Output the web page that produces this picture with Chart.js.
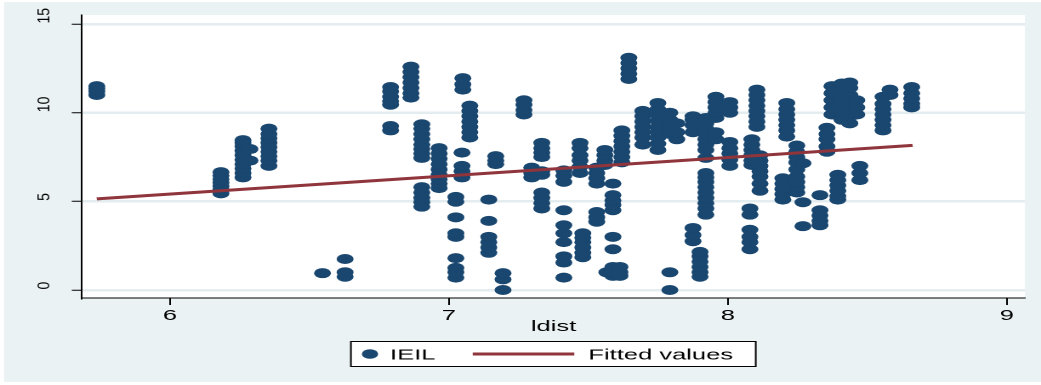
<!DOCTYPE html>
<html>
<head>
<meta charset="utf-8">
<script src="https://cdn.jsdelivr.net/npm/chart.js@4/dist/chart.umd.min.js"></script>
<style>
  html, body { margin: 0; padding: 0; background: #ffffff; overflow: hidden; }
  /* the chart is laid out on a narrow canvas and widened to the full page */
  #wrap { position: absolute; left: 0; top: 0; width: 612px; height: 385px;
          transform-origin: 0 0; transform: scaleX(1.70098); }
</style>
</head>
<body>
<div id="wrap"><canvas id="c"></canvas></div>
<script>
// ldist values (one entry per distinct distance) and the IEIL observations at each
const ldistLevels = [
  5.738, 6.183, 6.262, 6.287, 6.355, 6.547, 6.628, 6.791, 6.864, 6.903,
  6.965, 7.025, 7.047, 7.050, 7.075, 7.143, 7.168, 7.194, 7.269, 7.297,
  7.333, 7.412, 7.470, 7.480, 7.530, 7.559, 7.566, 7.588, 7.613, 7.620,
  7.645, 7.695, 7.749, 7.792, 7.817, 7.875, 7.900, 7.921, 7.957, 8.007,
  8.079, 8.086, 8.104, 8.115, 8.197, 8.211, 8.247, 8.269, 8.330, 8.355,
  8.373, 8.394, 8.409, 8.437, 8.462, 8.473, 8.556, 8.581, 8.659
];
const ieilAtLevel = [
  [11.0, 11.2, 11.35, 11.5],
  [5.45, 5.65, 5.85, 6.05, 6.25, 6.45, 6.65],
  [6.35, 6.6, 6.85, 7.1, 7.35, 7.6, 7.85, 8.1, 8.3, 8.45],
  [7.3, 7.95],
  [7.0, 7.3, 7.55, 7.8, 8.05, 8.3, 8.55, 8.8, 9.1],
  [0.95],
  [0.75, 1.0, 1.75],
  [9.0, 9.25, 10.45, 10.65, 10.9, 11.2, 11.45],
  [10.85, 11.1, 11.4, 11.7, 12.0, 12.3, 12.6],
  [4.7, 4.95, 5.2, 5.5, 5.8, 7.45, 7.7, 7.95, 8.2, 8.5, 8.8, 9.1, 9.35],
  [5.75, 6.0, 6.25, 6.5, 6.8, 7.1, 7.4, 7.7, 8.0],
  [0.7, 1.0, 1.25, 1.8, 3.0, 3.2, 4.1, 4.98, 5.25],
  [6.35, 6.7, 7.0, 7.75],
  [11.3, 11.6, 11.95],
  [8.6, 8.9, 9.2, 9.5, 9.8, 10.1, 10.4],
  [2.1, 2.4, 2.7, 3.0, 3.9, 5.1],
  [7.1, 7.3, 7.55],
  [0.0, 0.6, 0.95],
  [9.9, 10.15, 10.45, 10.7],
  [6.35, 6.6, 6.9],
  [4.6, 4.9, 5.2, 5.5, 6.5, 6.7, 7.5, 7.75, 8.0, 8.3],
  [0.7, 1.55, 1.9, 2.7, 3.2, 3.65, 4.5, 6.1, 6.45, 6.75],
  [6.6, 6.95, 7.3, 7.6, 8.0, 8.3],
  [1.85, 2.1, 2.4, 2.7, 2.95, 3.2],
  [3.85, 4.1, 4.4, 6.0, 6.3, 6.6, 6.9],
  [7.05, 7.3, 7.6, 7.9],
  [1.0],
  [0.8, 1.0, 1.3, 2.3, 3.0, 4.5, 4.8, 5.05, 5.35, 6.0],
  [0.8, 1.0, 1.3],
  [7.2, 7.5, 7.8, 8.1, 8.4, 8.7, 9.0],
  [11.9, 12.2, 12.5, 12.8, 13.1],
  [8.2, 8.6, 8.9, 9.2, 9.5, 9.8, 10.1],
  [7.9, 8.25, 8.6, 8.9, 9.2, 9.55, 9.9, 10.2, 10.55],
  [0.0, 1.0, 8.8, 9.2, 9.6, 10.0],
  [8.5, 8.9, 9.4],
  [2.75, 3.1, 3.5, 8.9, 9.3, 9.6, 9.8],
  [0.75, 1.0, 1.3, 1.6, 1.9, 2.15],
  [4.25, 4.6, 4.9, 5.2, 5.5, 5.8, 6.1, 6.35, 6.6, 7.45, 7.9, 8.2, 8.5, 8.8, 9.1, 9.4, 9.7],
  [8.5, 8.9, 9.7, 10.0, 10.3, 10.6, 10.9],
  [7.0, 7.35, 7.7, 8.0, 8.35, 10.0, 10.3, 10.6],
  [2.3, 2.7, 3.0, 3.4, 4.25, 4.6],
  [7.05, 7.3, 7.6, 7.9, 8.2, 8.5],
  [9.2, 9.5, 9.8, 10.1, 10.4, 10.7, 11.0, 11.3],
  [5.6, 6.0, 6.4, 6.7, 7.0, 7.3, 7.6],
  [5.1, 5.4, 5.7, 6.0, 6.3],
  [8.65, 9.0, 9.3, 9.6, 9.9, 10.2, 10.55],
  [5.5, 5.8, 6.1, 6.4, 6.8, 7.2, 7.5, 7.8, 8.15],
  [3.6, 4.95, 7.15],
  [3.65, 3.9, 4.2, 4.5, 5.35],
  [7.8, 8.1, 8.5, 8.8, 9.15],
  [9.9, 10.3, 10.7, 11.1, 11.5],
  [5.1, 5.3, 5.6, 5.9, 6.2, 6.5],
  [9.6, 10.0, 10.4, 10.8, 11.2, 11.65],
  [9.4, 9.8, 10.2, 10.6, 11.0, 11.4, 11.7],
  [9.9, 10.3, 10.7],
  [6.2, 6.6, 7.0],
  [9.0, 9.3, 9.6, 9.9, 10.2, 10.5, 10.9],
  [11.0, 11.3],
  [10.3, 10.5, 10.8, 11.1, 11.45]
];

// linear fit of IEIL on ldist, evaluated at the ends of the data range
const fitLdist = [5.738, 8.662];
const fitIeil  = [5.14, 8.16];

// axis ticks
const xTickValues = [6, 7, 8, 9];
const yTickValues = [0, 5, 10, 15];

const seriesLabels = ['IEIL', 'Fitted values'];
const xTitle = 'ldist';

const NAVY = '#1a476f';
const MAROON = '#90353b';
const PAGE_BG = '#eaf2f3';
const GRID = '#e3ecef';
const FONT = '"Liberation Sans", Arial, Helvetica, sans-serif';

const scatterPoints = ldistLevels.flatMap((x, i) => ieilAtLevel[i].map(y => ({ x, y })));
const fitPoints = fitLdist.map((x, i) => ({ x, y: fitIeil[i] }));

// page background, white plot region
const backdrop = {
  id: 'backdrop',
  beforeDraw(chart) {
    const { ctx, width, height, chartArea: a } = chart;
    ctx.save();
    ctx.fillStyle = '#ffffff';
    ctx.fillRect(0, 0, width, height);
    ctx.fillStyle = PAGE_BG;
    ctx.fillRect(2.4, 2, width - 2.4, height - 5);
    ctx.fillStyle = '#ffffff';
    ctx.fillRect(a.left, a.top, a.right - a.left, a.bottom - a.top);
    ctx.restore();
  }
};

// vertical y tick labels, reading upward from each tick
const yLabels = {
  id: 'yLabels',
  afterDraw(chart) {
    const { ctx } = chart;
    const ys = chart.scales.y;
    ctx.save();
    ctx.fillStyle = '#000';
    ctx.font = '14px ' + FONT;
    ctx.textAlign = 'left';
    ctx.textBaseline = 'middle';
    yTickValues.forEach(v => {
      const py = ys.getPixelForValue(v);
      ctx.save();
      ctx.translate(26.3, py);
      ctx.scale(0.72, 1);
      ctx.rotate(-Math.PI / 2);
      ctx.fillText(String(v), 0.5, 0);
      ctx.restore();
    });
    ctx.restore();
  }
};

// boxed legend below the axis title
const boxedLegend = {
  id: 'boxedLegend',
  afterDraw(chart) {
    const { ctx } = chart;
    const ds = chart.data.datasets;
    const box = { x: 206.3, y: 341.5, w: 238, h: 25 };
    const cy = box.y + box.h / 2;
    ctx.save();
    ctx.fillStyle = '#ffffff';
    ctx.fillRect(box.x, box.y, box.w, box.h);
    ctx.strokeStyle = '#000';
    ctx.lineWidth = 1;
    ctx.strokeRect(box.x, box.y, box.w, box.h);

    ctx.fillStyle = ds[0].backgroundColor;
    ctx.beginPath();
    ctx.arc(217.5, cy, 4.8, 0, Math.PI * 2);
    ctx.fill();

    ctx.strokeStyle = ds[1].borderColor;
    ctx.lineWidth = 3;
    ctx.beginPath();
    ctx.moveTo(277.9, cy);
    ctx.lineTo(337.6, cy);
    ctx.stroke();

    ctx.fillStyle = '#000';
    ctx.font = '15px ' + FONT;
    ctx.textAlign = 'left';
    ctx.textBaseline = 'alphabetic';
    ctx.fillText(ds[0].label, 229.3, cy + 5.5);
    ctx.fillText(ds[1].label, 345.9, cy + 5.5);
    ctx.restore();
  }
};

new Chart(document.getElementById('c'), {
  type: 'scatter',
  data: {
    datasets: [
      {
        label: seriesLabels[0],
        data: scatterPoints,
        backgroundColor: NAVY,
        borderColor: NAVY,
        borderWidth: 0,
        pointRadius: 5,
        pointHoverRadius: 5,
        order: 1
      },
      {
        type: 'line',
        label: seriesLabels[1],
        data: fitPoints,
        borderColor: MAROON,
        backgroundColor: MAROON,
        borderWidth: 3,
        pointRadius: 0,
        fill: false,
        tension: 0,
        order: 0
      }
    ]
  },
  options: {
    responsive: true,
    maintainAspectRatio: false,
    animation: false,
    devicePixelRatio: 2,
    events: [],
    layout: { padding: { left: 0, right: 9.4, top: 15, bottom: 49 } },
    plugins: {
      legend: { display: false },
      tooltip: { enabled: false }
    },
    scales: {
      x: {
        type: 'linear',
        min: 5.685,
        max: 9.065,
        afterBuildTicks: s => { s.ticks = xTickValues.map(v => ({ value: v })); },
        afterFit: s => { s.height = 38; },
        grid: { drawOnChartArea: false, drawTicks: true, tickLength: 7, tickColor: '#000', tickWidth: 1 },
        border: { display: true, color: '#000', width: 1 },
        ticks: { color: '#000', font: { family: FONT, size: 15 }, padding: 2, maxRotation: 0, autoSkip: false },
        title: { display: true, text: xTitle, color: '#000', font: { family: FONT, size: 15 }, padding: { top: 0, bottom: 0 } }
      },
      y: {
        type: 'linear',
        min: -0.45,
        max: 15.51,
        afterBuildTicks: s => { s.ticks = yTickValues.map(v => ({ value: v })); },
        afterFit: s => { s.width = 48.2; },
        grid: { color: GRID, lineWidth: 2.5, drawTicks: true, tickLength: 6, tickColor: '#000', tickWidth: 1 },
        border: { display: true, color: '#000', width: 1 },
        ticks: { display: false }
      }
    }
  },
  plugins: [backdrop, yLabels, boxedLegend]
});
</script>
</body>
</html>
